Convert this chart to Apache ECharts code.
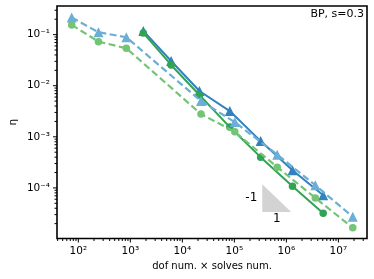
<!DOCTYPE html>
<html>
<head>
<meta charset="utf-8">
<script src="https://cdn.jsdelivr.net/npm/echarts@6/dist/echarts.min.js"></script>
<style>html,body{margin:0;padding:0;background:#fff}#c{width:374px;height:279px}</style>
</head>
<body>
<div id="c"></div>
<script>
// ---- data ----
const solidX = [1774, 6080, 21300, 81700, 320000, 1310000, 5100000];
const darkBlueY = [0.118, 0.0305, 0.00787, 0.00319, 0.000824, 0.000222, 0.000072];
const darkGreenY = [0.108, 0.0255, 0.00658, 0.00155, 0.000400, 0.000108, 0.0000319];
const dashedX = [74.5, 244, 838, 22800, 102000, 667000, 3600000, 18900000];
const lightBlueY = [0.217, 0.111, 0.0889, 0.00501, 0.00194, 0.000448, 0.000113, 0.0000272];
const lightGreenY = [0.155, 0.0729, 0.0541, 0.00279, 0.00125, 0.000255, 0.0000637, 0.0000166];
const slopeTriX = [344000, 1240000];
const slopeTriY = [0.000118, 0.0000339];
const slopeLabels = ['-1', '1'];
const xMajorTicks = [1e2, 1e3, 1e4, 1e5, 1e6, 1e7];
const xTickLabels = ['10²', '10³', '10⁴', '10⁵', '10⁶', '10⁷'];
const yMajorTicks = [1e-1, 1e-2, 1e-3, 1e-4];
const yTickLabels = ['10⁻¹', '10⁻²', '10⁻³', '10⁻⁴'];
const annotation = 'BP, s=0.3';
const xName = 'dof num. × solves num.';
const yName = 'η';

const xMin = Math.pow(10, 1.59), xMax = Math.pow(10, 7.55);
const yMin = Math.pow(10, -4.99), yMax = Math.pow(10, -0.44);

function minorTicks(lo, hi) {
  const out = [];
  for (let e = Math.floor(Math.log10(lo)) ; e <= Math.ceil(Math.log10(hi)); e++) {
    for (let m = 2; m <= 9; m++) {
      const v = m * Math.pow(10, e);
      if (v > lo && v < hi) out.push(v);
    }
  }
  return out;
}
const xMinor = minorTicks(xMin, xMax);
const yMinor = minorTicks(yMin, yMax);
const FONT = 'DejaVu Sans';

function renderAxes(params, api) {
  const children = [];
  const bl = api.coord([xMin, yMin]);
  const left = bl[0], bottom = bl[1];
  const tick = (x1, y1, x2, y2) => ({type: 'line', shape: {x1, y1, x2, y2}, style: {stroke: '#000', lineWidth: 1}});
  xMajorTicks.forEach((v, i) => {
    const x = api.coord([v, yMin])[0];
    children.push(tick(x, bottom, x, bottom + 4));
    children.push({type: 'text', style: {text: xTickLabels[i], x: x, y: bottom + 7, align: 'center', verticalAlign: 'top', fontSize: 10.5, fontFamily: FONT, fill: '#000'}});
  });
  xMinor.forEach(v => {
    const x = api.coord([v, yMin])[0];
    children.push(tick(x, bottom, x, bottom + 2.5));
  });
  yMajorTicks.forEach((v, i) => {
    const y = api.coord([xMin, v])[1];
    children.push(tick(left, y, left - 4, y));
    children.push({type: 'text', style: {text: yTickLabels[i], x: left - 7, y: y, align: 'right', verticalAlign: 'middle', fontSize: 10.5, fontFamily: FONT, fill: '#000'}});
  });
  yMinor.forEach(v => {
    const y = api.coord([xMin, v])[1];
    children.push(tick(left, y, left - 2.5, y));
  });
  return {type: 'group', children};
}

function renderSlope(params, api) {
  const a = api.coord([slopeTriX[0], slopeTriY[0]]);
  const b = api.coord([slopeTriX[0], slopeTriY[1]]);
  const c = api.coord([slopeTriX[1], slopeTriY[1]]);
  return {type: 'group', children: [
    {type: 'polygon', shape: {points: [a, b, c]}, style: {fill: '#d3d3d3'}},
    {type: 'text', style: {text: slopeLabels[0], x: a[0] - 5, y: (a[1] + b[1]) / 2, align: 'right', verticalAlign: 'middle', fontSize: 12, fontFamily: FONT, fill: '#000'}},
    {type: 'text', style: {text: slopeLabels[1], x: (b[0] + c[0]) / 2, y: b[1] + 7, align: 'center', verticalAlign: 'middle', fontSize: 12, fontFamily: FONT, fill: '#000'}}
  ]};
}

const zip = (xs, ys) => xs.map((x, i) => [x, ys[i]]);

const chart = echarts.init(document.getElementById('c'), null, {renderer: 'canvas'});
chart.setOption({
  animation: false,
  backgroundColor: '#fff',
  title: {text: annotation, right: 10, top: 9, padding: 0,
    textStyle: {fontSize: 11, fontWeight: 'normal', color: '#000', fontFamily: FONT}},
  grid: {left: 55, top: 6, width: 312, height: 232.5, show: true, borderColor: '#000', borderWidth: 1.6, backgroundColor: 'transparent', z: 10},
  xAxis: {type: 'log', logBase: 10, min: xMin, max: xMax,
    axisLine: {show: false}, axisTick: {show: false}, axisLabel: {show: false}, splitLine: {show: false},
    name: xName, nameLocation: 'middle', nameGap: 23,
    nameTextStyle: {fontSize: 10, fontFamily: FONT, color: '#000'}},
  yAxis: {type: 'log', logBase: 10, min: yMin, max: yMax,
    axisLine: {show: false}, axisTick: {show: false}, axisLabel: {show: false}, splitLine: {show: false},
    name: yName, nameLocation: 'middle', nameGap: 38,
    nameTextStyle: {fontSize: 10.5, fontFamily: FONT, color: '#000'}},
  series: [
    {type: 'custom', renderItem: renderSlope, data: [[slopeTriX[0], slopeTriY[0]]], z: 1, silent: true, clip: false},
    {type: 'line', data: zip(solidX, darkBlueY), symbol: 'triangle', symbolSize: 10, color: '#3182bd',
      lineStyle: {width: 2, color: '#3182bd'}, itemStyle: {color: '#3182bd'}, z: 3},
    {type: 'line', data: zip(solidX, darkGreenY), symbol: 'circle', symbolSize: 7.5, color: '#31a354',
      lineStyle: {width: 2, color: '#31a354'}, itemStyle: {color: '#31a354'}, z: 4},
    {type: 'line', data: zip(dashedX, lightBlueY), symbol: 'triangle', symbolSize: 10, color: '#6baed6',
      lineStyle: {width: 2.2, color: '#6baed6', type: [7, 3.5]}, itemStyle: {color: '#6baed6'}, z: 5},
    {type: 'line', data: zip(dashedX, lightGreenY), symbol: 'circle', symbolSize: 7.5, color: '#74c476',
      lineStyle: {width: 2.2, color: '#74c476', type: [7, 3.5]}, itemStyle: {color: '#74c476'}, z: 6},
    {type: 'custom', renderItem: renderAxes, data: [[100, 0.001]], z: 20, silent: true, clip: false}
  ]
});
</script>
</body>
</html>
